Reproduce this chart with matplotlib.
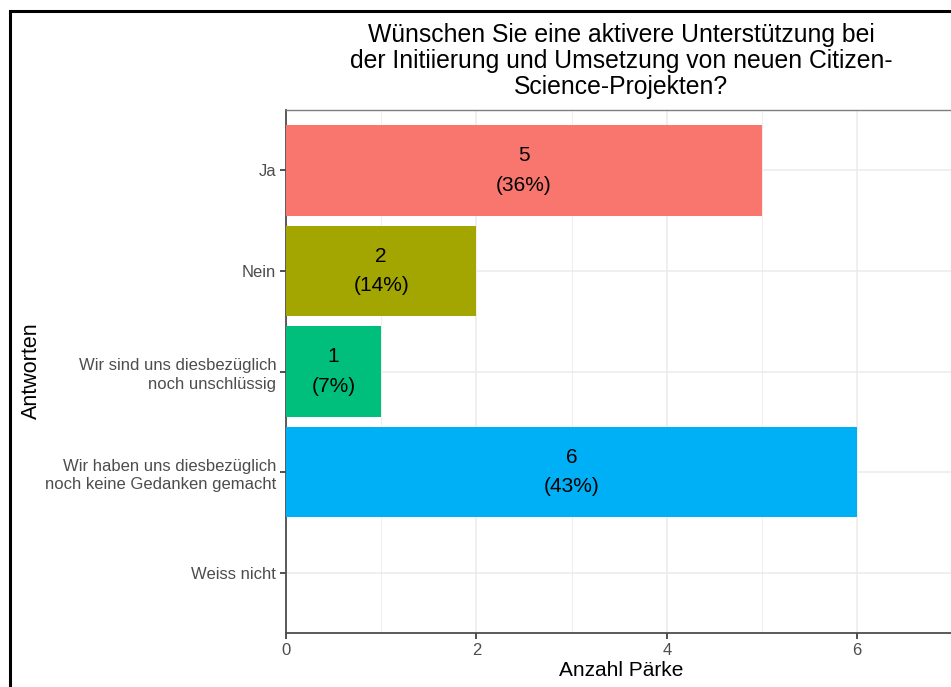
import numpy as np
import matplotlib
matplotlib.use("Agg")
from matplotlib import pyplot as plt
from matplotlib.patches import Rectangle

plt.rcParams['font.family'] = ['Liberation Sans', 'DejaVu Sans']

categories = ["Ja", "Nein", "Wir sind uns diesbezüglich\nnoch unschlüssig",
              "Wir haben uns diesbezüglich\nnoch keine Gedanken gemacht", "Weiss nicht"]
counts = [5, 2, 1, 6, 0]
percents = [36, 14, 7, 43, 0]
colors = ["#F8766D", "#A3A500", "#00BF7D", "#00B0F6", "#E76BF3"]
title = ("Wünschen Sie eine aktivere Unterstützung bei\n"
         "der Initiierung und Umsetzung von neuen Citizen-\n"
         "Science-Projekten?")

W, H = 951, 687
fig = plt.figure(figsize=(W / 100, H / 100), dpi=100)

# black frame of the screenshot
fig.patches.append(Rectangle((10 / W, -0.1), 1.2, 1 - 11 / H + 0.1, transform=fig.transFigure,
                             fill=False, edgecolor="black", linewidth=2.2, zorder=0))

left, right, top, bottom = 286, 956, 110, 633
ax = fig.add_axes([left / W, 1 - bottom / H, (right - left) / W, (bottom - top) / H])

y = np.arange(len(categories))
ax.barh(y, counts, height=0.9, color=colors, zorder=3)
for yi, c, p in zip(y, counts, percents):
    if c > 0:
        ax.text(c / 2, yi, f"{c}\n({p}%)", ha="center", va="center",
                fontsize=15, linespacing=1.72, color="black", zorder=4)

ax.set_xlim(0, (right - left) / 95.2)
ax.set_ylim(len(categories) - 0.4, -0.6)
ax.set_yticks(y)
ax.set_yticklabels(categories, fontsize=12, color="#4D4D4D", linespacing=1.3)
ax.set_xticks([0, 2, 4, 6])
ax.set_xticks([1, 3, 5, 7], minor=True)
ax.tick_params(axis="x", which="minor", length=0)
ax.tick_params(axis="both", which="major", length=4, width=1.2, color="#333333",
               labelsize=12, labelcolor="#4D4D4D", pad=3)
ax.grid(True, which="major", color="#EBEBEB", linewidth=1.1, zorder=0)
ax.grid(True, which="minor", axis="x", color="#EBEBEB", linewidth=0.6, zorder=0)
for s in ["top", "right"]:
    ax.spines[s].set_color("#7F7F7F")
    ax.spines[s].set_linewidth(1.0)
for s in ["left", "bottom"]:
    ax.spines[s].set_color("#4D4D4D")
    ax.spines[s].set_linewidth(1.3)

ax.set_xlabel("Anzahl Pärke", fontsize=15, color="black", labelpad=2)
fig.text(31 / W, 1 - 371 / H, "Antworten", rotation=90, ha="center", va="center",
         fontsize=15.5, color="black")
fig.text(621 / W, 1 - 61 / H, title, ha="center", va="center", fontsize=17.8,
         linespacing=1.08, color="black")

fig.savefig("out.png", dpi=100)
